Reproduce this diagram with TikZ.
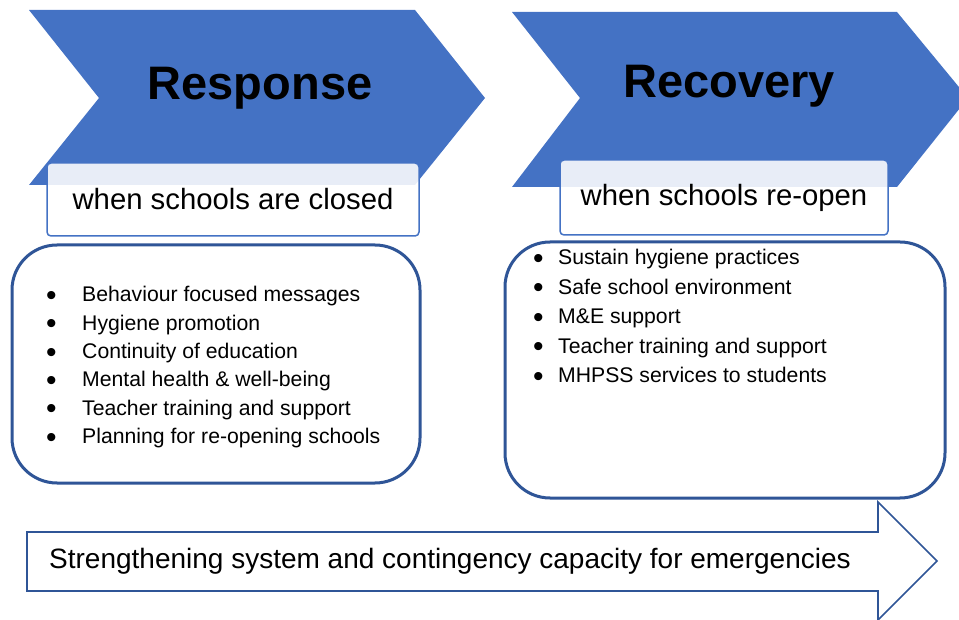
\documentclass[tikz,border=0pt]{standalone}
\usepackage{fontspec}
\setmainfont{Liberation Sans}
\definecolor{chevblue}{HTML}{4472C4}
\definecolor{darkblue}{HTML}{2F5597}
\newcommand{\listbullet}{\raisebox{-3.5pt}{\fontsize{30}{30}\selectfont•}}
\begin{document}
\begin{tikzpicture}[x=1pt,y=-1pt,
  chevron/.style={fill=chevblue},
  phasetitle/.style={font=\fontsize{47}{50}\selectfont\bfseries, anchor=base, inner sep=0pt},
  subbox/.style={draw=chevblue, line width=1.5pt, fill=white, fill opacity=0.88, text opacity=1,
    rounded corners=4pt, font=\fontsize{29.3}{33}\selectfont, inner sep=0pt},
  panel/.style={draw=darkblue, line width=3pt, fill=white, rounded corners=45pt, inner sep=0pt},
  item/.style={font=\fontsize{21.2}{25}\selectfont, anchor=base west, inner sep=0pt},
  band/.style={draw=darkblue, line width=1.6pt, fill=white, line join=miter}
]
\useasboundingbox (0,0) rectangle (959,620);

% phase chevrons
\fill[chevron] (29,10) -- (415,10) -- (485,98) -- (415,185) -- (29,185) -- (99,98) -- cycle;
\fill[chevron] (512,12) -- (897,12) -- (968,98) -- (897,187) -- (512,187) -- (580,98) -- cycle;
\node[phasetitle] (response) at (260,100) {Response};
\node[phasetitle] (recovery) at (729,98) {Recovery};

% sub-headings
\node[subbox, minimum width=372pt, minimum height=73pt] (closed) at (233,199.5) {when schools are closed};
\node[subbox, minimum width=328pt, minimum height=75pt] (reopen) at (724,197.5) {when schools re-open};

% activity panels
\node[panel, minimum width=408pt, minimum height=238pt] (closedlist) at (216,364) {};
\node[panel, minimum width=440pt, minimum height=256pt] (reopenlist) at (725,370) {};

\foreach \txt [count=\i from 0] in {Behaviour focused messages, Hygiene promotion,
    Continuity of education, Mental health \& well-being, Teacher training and support,
    Planning for re-opening schools}
  \node[item] (a\i) at (46,{302+28.3*\i}) {\makebox[36pt][l]{\listbullet}\txt};

\foreach \txt [count=\i from 0] in {Sustain hygiene practices, Safe school environment,
    M\&E support, Teacher training and support, MHPSS services to students}
  \node[item] (b\i) at (533,{265+29.5*\i}) {\makebox[25pt][l]{\listbullet}\txt};

% cross-cutting band arrow
\draw[band] (27,532) -- (878,532) -- (878,502) -- (937,561) -- (878,620) -- (878,591) -- (27,591) -- cycle;
\node[font=\fontsize{28}{32}\selectfont, anchor=base west, inner sep=0pt] (capacity) at (49,568)
  {Strengthening system and contingency capacity for emergencies};
\end{tikzpicture}
\end{document}
